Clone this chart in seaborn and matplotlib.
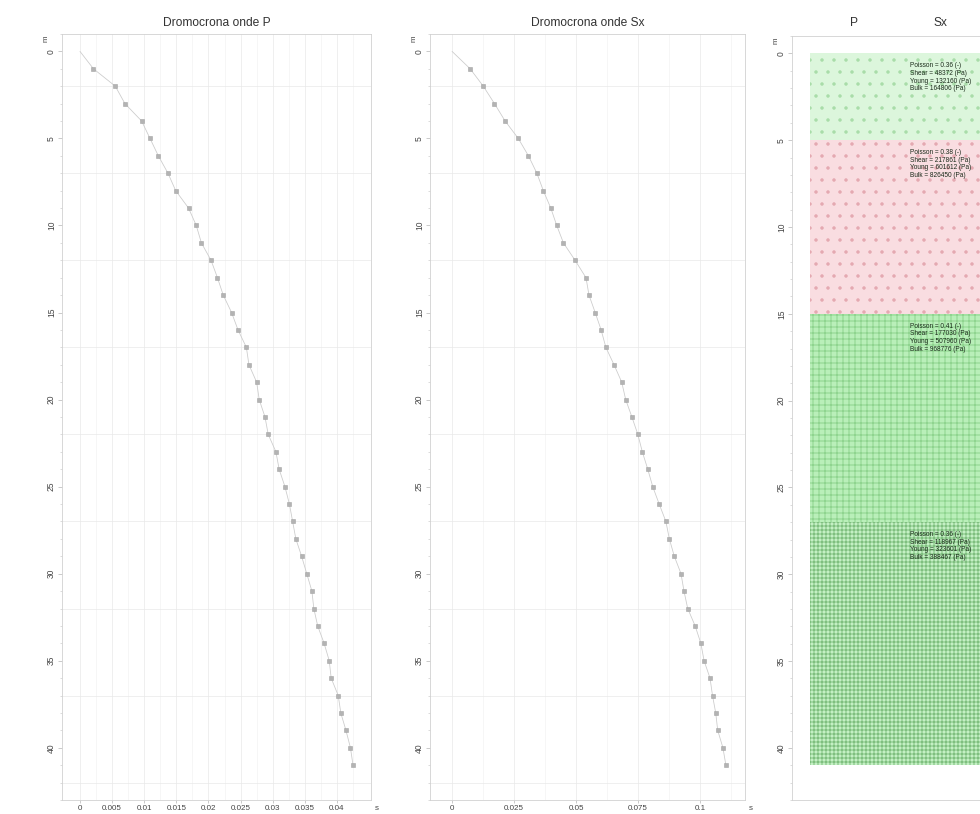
import numpy as np
import pandas as pd
import matplotlib
matplotlib.use("Agg")
import matplotlib.pyplot as plt
from matplotlib.ticker import MultipleLocator, FuncFormatter
import seaborn as sns

# ---------------- data ----------------
depth_m = list(range(0, 42))  # 0 .. 41 m
p_time_s = [0.0, 0.0021, 0.0055, 0.0070, 0.0096, 0.0109, 0.0122, 0.0137, 0.0149,
            0.0169, 0.0181, 0.0189, 0.0204, 0.0214, 0.0223, 0.0236, 0.0246,
            0.0259, 0.0263, 0.0275, 0.0279, 0.0288, 0.0293, 0.0305, 0.0310,
            0.0319, 0.0326, 0.0331, 0.0336, 0.0345, 0.0353, 0.0361, 0.0364,
            0.0370, 0.0380, 0.0388, 0.0391, 0.0402, 0.0406, 0.0414, 0.0421, 0.0425]
sx_time_s = [0.0, 0.0073, 0.0126, 0.0171, 0.0214, 0.0267, 0.0308, 0.0342, 0.0368,
             0.0398, 0.0422, 0.0449, 0.0496, 0.0540, 0.0552, 0.0577, 0.0601,
             0.0620, 0.0653, 0.0684, 0.0700, 0.0725, 0.0749, 0.0767, 0.0789,
             0.0809, 0.0835, 0.0862, 0.0876, 0.0896, 0.0923, 0.0935, 0.0950,
             0.0980, 0.1003, 0.1016, 0.1040, 0.1050, 0.1063, 0.1071, 0.1092, 0.1104]

p_xticks = [0, 0.005, 0.01, 0.015, 0.02, 0.025, 0.03, 0.035, 0.04]
sx_xticks = [0, 0.025, 0.05, 0.075, 0.1]
depth_ticks = [0, 5, 10, 15, 20, 25, 30, 35, 40]

columns = ["P", "Sx"]
layer_top_m = [0, 5, 15, 27]
layer_bottom_m = [5, 15, 27, 41]
layer_face = ["#dcf6dc", "#f9dde1", "#b9efb9", "#c4f0c4"]
layer_hatchcolor = ["#a8dca8", "#e4a8b0", "#8fd48f", "#7fbf7f"]
layer_hatch = [".", ".", "++", "+++"]
poisson = ["0.36", "0.38", "0.41", "0.36"]
shear_pa = ["48372", "217861", "177030", "118967"]
young_pa = ["132160", "601612", "507960", "323601"]
bulk_pa = ["164806", "826450", "968776", "388467"]

# ---------------- style ----------------
sns.set_theme(style="white")
plt.rcParams["font.family"] = ["Liberation Sans", "DejaVu Sans"]

DPI = 72
fig = plt.figure(figsize=(980 / DPI, 814 / DPI), dpi=DPI)

W, H = 980.0, 814.0
def pos(l, t, r, b):
    return [l / W, 1 - b / H, (r - l) / W, (b - t) / H]

ax1 = fig.add_axes(pos(62, 34, 371, 800))
ax2 = fig.add_axes(pos(430, 34, 745, 800))
ax3 = fig.add_axes(pos(792, 36, 1127, 800))

spine_c = "#cfcfcf"
tick_c = "#444444"

def style_depth_axis(ax):
    ax.set_ylim(43, -1)
    ax.set_yticks(depth_ticks)
    ax.yaxis.set_minor_locator(MultipleLocator(1))
    ax.tick_params(axis="y", which="major", left=True, length=4, width=0.6,
                   color="#aaaaaa", labelsize=8.5, pad=2, labelcolor=tick_c)
    ax.tick_params(axis="y", which="minor", left=True, length=2.5, width=0.5,
                   color="#bbbbbb")
    for lab in ax.get_yticklabels():
        lab.set_rotation(90)
        lab.set_va("center")
    for s in ax.spines.values():
        s.set_color(spine_c)
        s.set_linewidth(0.8)
    ax.set_xlabel("")
    ax.set_ylabel("")
    ax.text(-12 / (ax.get_position().width * W), 1 - 5 / 766, "m",
            transform=ax.transAxes, rotation=90,
            ha="right", va="center", fontsize=8, color=tick_c)

def curve(ax, times, xticks, xlim, title):
    df = pd.DataFrame({"time": times, "depth": depth_m})
    ax.set_facecolor("white")
    # faint grid
    for xv in xticks:
        ax.axvline(xv, color="#e9e9e9", lw=0.7, zorder=0)
    step = xticks[1] - xticks[0]
    for xv in np.arange(xticks[0] + step / 2, xlim[1], step):
        ax.axvline(xv, color="#f1f1f1", lw=0.6, zorder=0)
    for yv in range(2, 43, 5):
        ax.axhline(yv, color="#e9e9e9", lw=0.7, zorder=0)
    sns.lineplot(data=df, x="time", y="depth", sort=False, estimator=None,
                 color="#cccccc", lw=0.8, ax=ax, zorder=2)
    sns.scatterplot(data=df.iloc[1:], x="time", y="depth", marker="s", s=20,
                    color="#b3b3b3", edgecolor="#a0a0a0", linewidth=0.5,
                    ax=ax, zorder=3)
    ax.set_xlim(*xlim)
    ax.set_xticks(xticks)
    ax.xaxis.set_major_formatter(FuncFormatter(lambda v, p: "%g" % v))
    ax.tick_params(axis="x", bottom=True, length=3, width=0.6, color="#aaaaaa",
                   labelsize=8, pad=1.5, labelcolor=tick_c)
    ax.set_title(title, fontsize=12, color="#333333", pad=8)
    style_depth_axis(ax)
    ax.text(1.013, -0.011, "s", transform=ax.transAxes, ha="left", va="center",
            fontsize=8, color=tick_c)

curve(ax1, p_time_s, p_xticks, (-0.0028, 0.0453), "Dromocrona onde P")
curve(ax2, sx_time_s, sx_xticks, (-0.0089, 0.1181), "Dromocrona onde Sx")

# ---------------- layer column ----------------
ax3.set_facecolor("white")
ncol = len(columns)
ax3.set_xlim(-0.207, (1127 - 810) / 87.0)
for i in range(len(layer_top_m)):
    ax3.barh(layer_top_m[i], ncol, height=layer_bottom_m[i] - layer_top_m[i],
             left=0, align="edge", color=layer_face[i],
             edgecolor=layer_hatchcolor[i], hatch=layer_hatch[i], linewidth=0,
             zorder=1)
    txt = ("Poisson = %s (-)\nShear = %s (Pa)\nYoung = %s (Pa)\nBulk = %s (Pa)"
           % (poisson[i], shear_pa[i], young_pa[i], bulk_pa[i]))
    ax3.text(1.15, layer_top_m[i] + 0.5, txt, ha="left", va="top", fontsize=6.5,
             color="#1a2a1a", linespacing=1.15, zorder=3)
ax3.set_xticks([i + 0.5 for i in range(ncol)])
ax3.set_xticklabels(columns)
ax3.xaxis.tick_top()
ax3.tick_params(axis="x", top=True, bottom=False, length=0, labelsize=12,
                pad=7, labelcolor="#333333")
style_depth_axis(ax3)

plt.savefig("out.png", dpi=DPI)
